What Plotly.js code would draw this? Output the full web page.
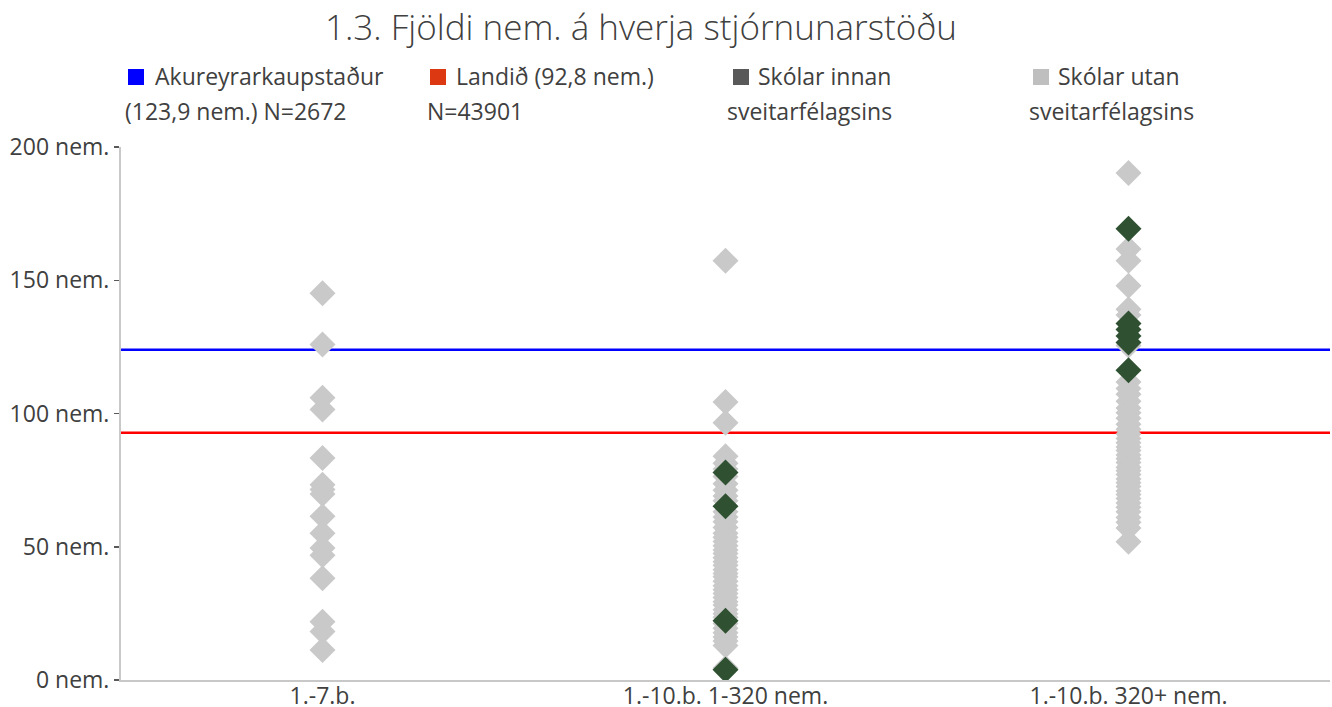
<!DOCTYPE html>
<html>
<head>
<meta charset="utf-8">
<script src="https://cdn.plot.ly/plotly-3.0.1.min.js"></script>
<style>
html,body{margin:0;padding:0;background:#fff;}
#chart{width:1332px;height:707px;}
</style>
</head>
<body>
<div id="chart"></div>
<script>
// ---- Data ----
const categories = ['1.-7.b.', '1.-10.b. 1-320 nem.', '1.-10.b. 320+ nem.'];
const yTickValues = [0, 50, 100, 150, 200];
const yTickLabels = ['0 nem.', '50 nem.', '100 nem.', '150 nem.', '200 nem.'];

// Skólar utan sveitarfélagsins (grey diamonds), per category
const utan_1_7 = [145.1, 125.9, 105.9, 101.5, 83.3, 73.3, 71.5, 69.8, 61.4, 55.1, 49.5, 46.8, 38.2, 21.9, 18.2, 11.3];
const utan_1_10_small = [157.3, 104.3, 96.5, 84.0, 81.3, 79.2, 76.4, 73.6, 71.2, 69.0, 67.3, 63.1, 61.2, 59.4, 57.2, 55.1,
  53.6, 52.0, 50.4, 48.8, 47.5, 45.9, 44.4, 43.1, 41.4, 40.0, 38.7, 37.1, 35.4, 33.9, 32.5, 31.0, 29.4, 28.1, 26.4,
  24.9, 23.5, 21.2, 19.4, 17.7, 16.1, 14.6, 12.9, 4.5];
const utan_1_10_large = [190.2, 161.7, 157.3, 147.9, 139.1, 137.0, 125.5, 111.8, 109.4, 107.2, 104.6, 102.1, 100.3,
  98.2, 96.0, 94.1, 92.3, 90.6, 89.0, 87.4, 86.1, 84.4, 83.0, 81.6, 79.8, 78.5, 77.1, 75.4, 74.0, 72.6, 70.9, 69.6,
  68.1, 66.4, 64.8, 63.1, 61.0, 59.2, 57.0, 51.9];

// Skólar innan sveitarfélagsins (dark green diamonds)
const innan_1_7 = [];
const innan_1_10_small = [77.9, 65.2, 22.2, 3.8];
const innan_1_10_large = [169.3, 133.8, 131.5, 129.1, 126.6, 116.2];

// Reference lines
const akureyriAvg = 123.9;
const landidAvg = 92.8;

const legendNames = [
  ['Akureyrarkaupstaður', '(123,9 nem.) N=2672'],
  ['Landið (92,8 nem.)', 'N=43901'],
  ['Skólar innan', 'sveitarfélagsins'],
  ['Skólar utan', 'sveitarfélagsins']
];

// ---- Build traces ----
function flatten(groups) {
  const xs = [], ys = [];
  groups.forEach((g, i) => g.forEach(v => { xs.push(i); ys.push(v); }));
  return {x: xs, y: ys};
}
const utan = flatten([utan_1_7, utan_1_10_small, utan_1_10_large]);
const innan = flatten([innan_1_7, innan_1_10_small, innan_1_10_large]);

const GREY = '#c9c9c9';
const GREEN = '#2f5131';
const FONT = 'Open Sans, Noto Sans, sans-serif';
const TXT = '#404040';
const FS = 23;

const traces = [
  {type: 'scatter', mode: 'lines', name: legendNames[0].join(' '), x: [-0.5, 2.5], y: [akureyriAvg, akureyriAvg],
   line: {color: '#0000ff', width: 2.5}, hoverinfo: 'y'},
  {type: 'scatter', mode: 'lines', name: legendNames[1].join(' '), x: [-0.5, 2.5], y: [landidAvg, landidAvg],
   line: {color: '#ff0000', width: 2.5}, hoverinfo: 'y'},
  {type: 'scatter', mode: 'markers', name: legendNames[3].join(' '), x: utan.x, y: utan.y,
   marker: {symbol: 'diamond', size: 20, color: GREY, line: {width: 0}}},
  {type: 'scatter', mode: 'markers', name: legendNames[2].join(' '), x: innan.x, y: innan.y,
   marker: {symbol: 'diamond', size: 20, color: GREEN, line: {width: 0}}}
];

// ---- Layout helpers (pixel -> paper) ----
const W = 1332, H = 707;
const M = {l: 121, r: 2, t: 147, b: 27};
const PW = W - M.l - M.r, PH = H - M.t - M.b;
const px = v => (v - M.l) / PW;
const py = v => (H - M.b - v) / PH;

const legendColors = ['#0000ff', '#dc3912', '#595959', '#bfbfbf'];
const legendSquareX = [128, 430, 733, 1033];
const legendLine1X = [153, 454, 756, 1056];
const legendLine2X = [123, 425, 725, 1027];

const shapes = [], annotations = [];
legendNames.forEach((nm, i) => {
  shapes.push({type: 'rect', xref: 'paper', yref: 'paper',
    x0: px(legendSquareX[i]), x1: px(legendSquareX[i] + 16), y0: py(85), y1: py(69),
    fillcolor: legendColors[i], line: {width: 0}});
  annotations.push({xref: 'paper', yref: 'paper', x: px(legendLine1X[i]), y: py(76), xanchor: 'left', yanchor: 'middle',
    text: nm[0], showarrow: false, font: {family: FONT, size: FS, color: TXT, weight: 400}});
  annotations.push({xref: 'paper', yref: 'paper', x: px(legendLine2X[i]), y: py(111), xanchor: 'left', yanchor: 'middle',
    text: nm[1], showarrow: false, font: {family: FONT, size: FS, color: TXT, weight: 400}});
});

const layout = {
  width: W, height: H,
  margin: M,
  paper_bgcolor: '#ffffff', plot_bgcolor: '#ffffff',
  showlegend: false,
  font: {family: FONT, color: TXT},
  title: {text: '1.3. Fjöldi nem. á hverja stjórnunarstöðu', x: 641 / W, xref: 'container', xanchor: 'center',
          y: 1 - 28 / H, yref: 'container', yanchor: 'middle',
          font: {family: FONT, size: 35, color: TXT, weight: 300}},
  xaxis: {range: [-0.5, 2.5], tickvals: [0, 1, 2], ticktext: categories, showgrid: false, zeroline: false,
          showline: true, linecolor: '#c8c8c8', linewidth: 2, ticks: '', fixedrange: true, ticklabelstandoff: -6,
          tickfont: {family: FONT, size: FS, color: TXT, weight: 400}},
  yaxis: {range: [0, 200], tickvals: yTickValues, ticktext: yTickLabels, showgrid: false, zeroline: false,
          showline: true, linecolor: '#c8c8c8', linewidth: 2, ticks: 'outside', ticklen: 5, tickwidth: 1.5,
          tickcolor: '#595959', fixedrange: true, tickfont: {family: FONT, size: FS, color: TXT, weight: 400}},
  shapes: shapes,
  annotations: annotations
};

Plotly.newPlot('chart', traces, layout, {displayModeBar: false, staticPlot: true});
</script>
</body>
</html>
